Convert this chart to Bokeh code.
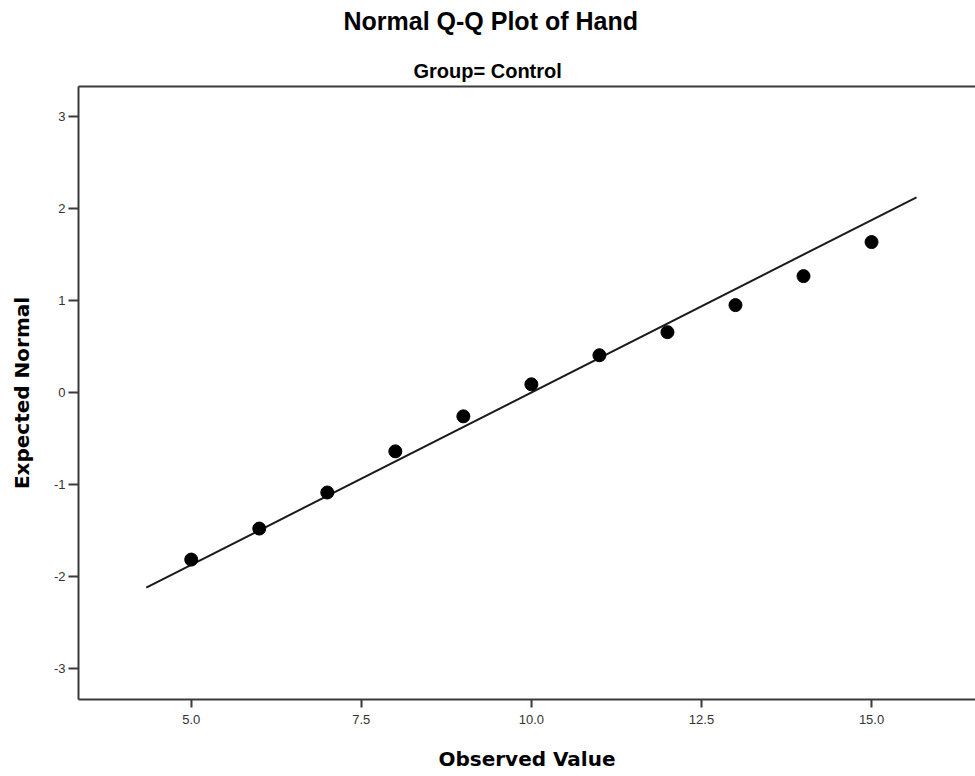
from bokeh.plotting import figure
from bokeh.models import LinearAxis, Title, FixedTicker, NumeralTickFormatter, Range1d
from bokeh.embed import file_html
from bokeh.resources import INLINE

observed = [5, 6, 7, 8, 9, 10, 11, 12, 13, 14, 15]
expected = [-1.816, -1.479, -1.087, -0.640, -0.259, 0.089, 0.405, 0.656, 0.950, 1.265, 1.635]
line_x = [4.339, 15.661]
line_y = [-2.121, 2.122]
x_ticks = [5.0, 7.5, 10.0, 12.5, 15.0]
y_ticks = [-3, -2, -1, 0, 1, 2, 3]
title_text = "Normal Q-Q Plot of Hand"
subtitle_text = "Group= Control"
x_label = "Observed Value"
y_label = "Expected Normal"

# frame: left 78, right 975, top 86, bottom 699
p = figure(width=975, height=776, output_backend="svg", toolbar_location=None,
           x_range=Range1d(3.343, 16.528), y_range=Range1d(-3.337, 3.326),
           min_border_left=78, min_border_right=0, min_border_top=86, min_border_bottom=77,
           x_axis_location=None, y_axis_location=None)
p.outline_line_color = None
p.grid.visible = False
p.background_fill_color = "white"
p.border_fill_color = "white"

axis_col = "#3a3a3a"

xa = LinearAxis(ticker=FixedTicker(ticks=x_ticks), formatter=NumeralTickFormatter(format="0.0"),
                axis_label=x_label)
xa.axis_line_color = axis_col
xa.axis_line_width = 2
xa.major_tick_line_color = axis_col
xa.major_tick_line_width = 2
xa.major_tick_out = 8
xa.major_tick_in = 0
xa.minor_tick_line_color = None
xa.major_label_standoff = 7
xa.major_label_text_font = "Liberation Sans"
xa.major_label_text_font_size = "13px"
xa.major_label_text_color = "#333333"
xa.axis_label_text_font = "DejaVu Sans"
xa.axis_label_text_font_style = "bold"
xa.axis_label_text_font_size = "20px"
xa.axis_label_text_color = "#000000"
xa.axis_label_standoff = 20
p.add_layout(xa, "below")

ya = LinearAxis(ticker=FixedTicker(ticks=y_ticks), formatter=NumeralTickFormatter(format="0"),
                axis_label=y_label)
ya.axis_line_color = axis_col
ya.axis_line_width = 2
ya.major_tick_line_color = axis_col
ya.major_tick_line_width = 2
ya.major_tick_out = 10
ya.major_tick_in = 0
ya.minor_tick_line_color = None
ya.major_label_standoff = 3
ya.major_label_text_font = "Liberation Sans"
ya.major_label_text_font_size = "13px"
ya.major_label_text_color = "#333333"
ya.axis_label_text_font = "DejaVu Sans"
ya.axis_label_text_font_style = "bold"
ya.axis_label_text_font_size = "20px"
ya.axis_label_text_color = "#000000"
ya.axis_label_standoff = 17
p.add_layout(ya, "left")

top = LinearAxis(ticker=FixedTicker(ticks=[]))
top.axis_line_color = axis_col
top.axis_line_width = 2
top.major_tick_line_color = None
top.minor_tick_line_color = None
top.major_tick_out = 0
top.major_tick_in = 0
top.major_label_standoff = 0
top.axis_label_standoff = 0
top.major_label_text_font_size = "0px"
p.add_layout(top, "above")

p.line(line_x, line_y, line_color="#1a1a1a", line_width=2)
p.scatter(observed, expected, size=13, fill_color="black", line_color="black")

p.add_layout(Title(text=subtitle_text, align="left", offset=335,
                   text_font="Liberation Sans", text_font_style="bold", text_font_size="20px",
                   text_color="black", standoff=9), "above")
p.add_layout(Title(text=" ", align="left", text_font_size="1px", standoff=11), "above")
p.add_layout(Title(text=title_text, align="left", offset=265,
                   text_font="Liberation Sans", text_font_style="bold", text_font_size="25px",
                   text_color="black", standoff=9), "above")

open("out.html", "w").write(file_html(p, INLINE))
